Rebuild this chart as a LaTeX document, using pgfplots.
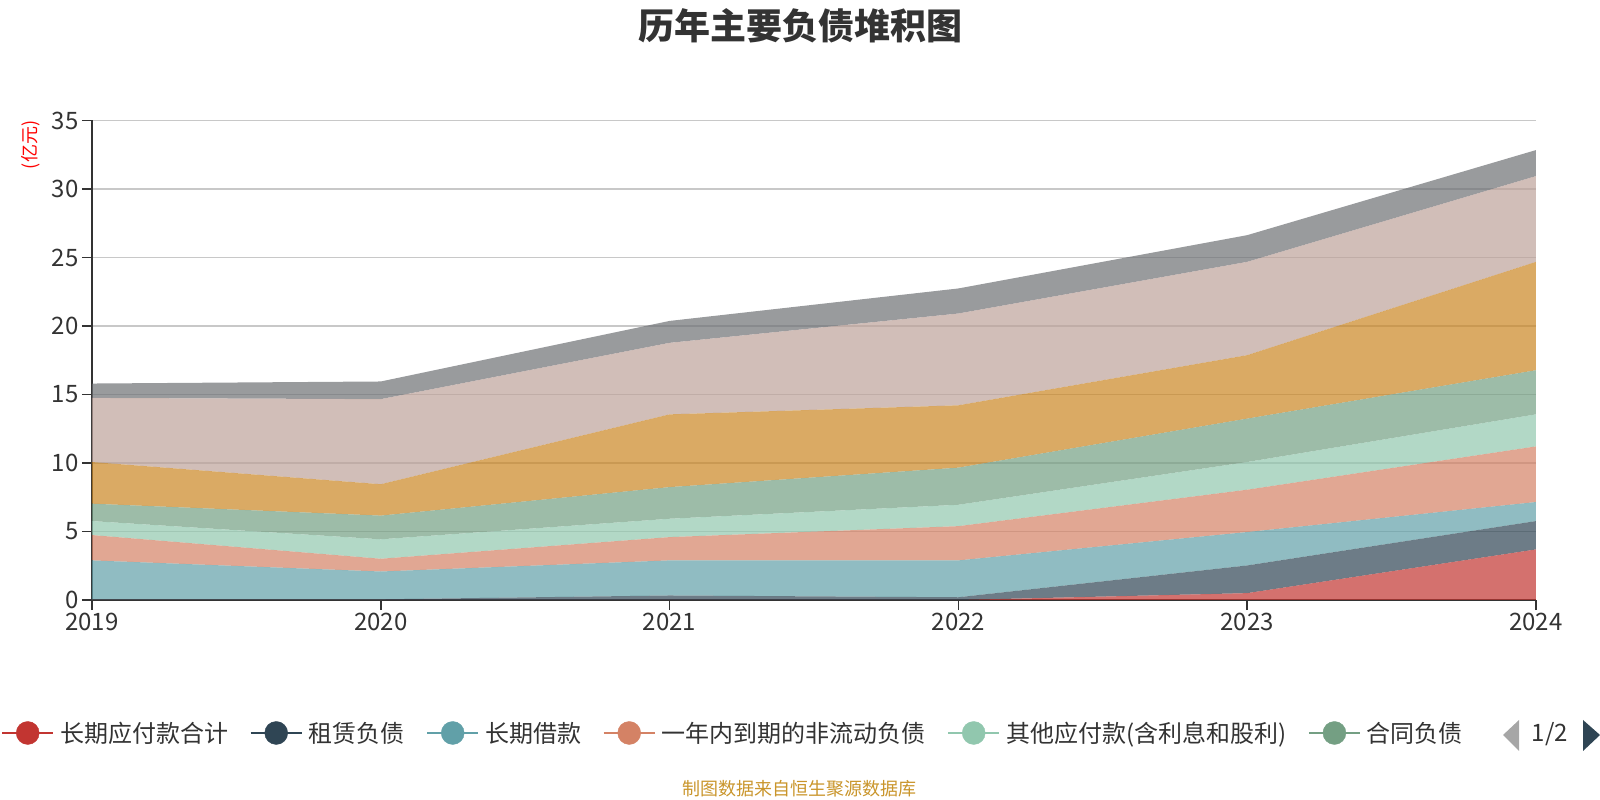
\documentclass[border=0pt]{standalone}
\usepackage{pgfplots}
\pgfplotsset{compat=1.18}
\usepackage{fontspec}
\setmainfont{Noto Sans CJK SC}
\newfontfamily\dejavu{DejaVu Sans}
\definecolor{c1}{HTML}{C23531}
\definecolor{c2}{HTML}{2F4554}
\definecolor{c3}{HTML}{61A0A8}
\definecolor{c4}{HTML}{D48265}
\definecolor{c5}{HTML}{91C7AE}
\definecolor{c6}{HTML}{749F83}
\definecolor{c7}{HTML}{CA8622}
\definecolor{c8}{HTML}{BDA29A}
\definecolor{c9}{HTML}{6E7074}
\definecolor{axisc}{HTML}{333333}
\definecolor{gridc}{HTML}{C8C8C8}
\definecolor{labc}{HTML}{333333}
\definecolor{srcc}{HTML}{C9952B}
\begin{document}
\begin{tikzpicture}
\useasboundingbox (0,0) rectangle (1600pt,800pt);
\begin{axis}[
  at={(92pt,200pt)}, anchor=south west,
  scale only axis, width=1444pt, height=479.5pt,
  xmin=0, xmax=5, ymin=0, ymax=35,
  xtick={0,1,2,3,4,5}, xticklabels={2019,2020,2021,2022,2023,2024},
  ytick={0,5,10,15,20,25,30,35},
  axis lines*=left,
  axis line style={color=axisc, line width=1.6pt},
  ymajorgrids, grid style={color=gridc, line width=1.3pt},
  tick align=outside, major tick length=10pt,
  tick style={color=axisc, line width=1.6pt},
  ticklabel style={font=\fontsize{24}{28}\selectfont, text=labc},
  /pgf/number format/assume math mode=true,
  stack plots=y,
  legend columns=-1,
  legend style={at={(axis description cs:-0.0630,-0.2773)}, anchor=west, draw=none, fill=none, inner sep=0pt,
    font=\fontsize{24}{28}\selectfont, text=labc,
    /tikz/every odd column/.append style={column sep=4pt},
    /tikz/every even column/.append style={column sep=19.5pt}},
  legend image code/.code={\draw[#1,line width=2pt] (0pt,0pt)--(51pt,0pt); \fill[#1] (25.5pt,0pt) circle (11.5pt);},
]
% 长期应付款合计
\addplot[fill=c1, fill opacity=0.7, draw=none, forget plot] coordinates {(0,0) (1,0) (2,0) (3,0) (4,0.50) (5,3.69)} \closedcycle;
% 租赁负债
\addplot[fill=c2, fill opacity=0.7, draw=none, forget plot] coordinates {(0,0.05) (1,0.05) (2,0.33) (3,0.20) (4,2.02) (5,2.07)} \closedcycle;
% 长期借款
\addplot[fill=c3, fill opacity=0.7, draw=none, forget plot] coordinates {(0,2.84) (1,2.03) (2,2.56) (3,2.69) (4,2.44) (5,1.39)} \closedcycle;
% 一年内到期的非流动负债
\addplot[fill=c4, fill opacity=0.7, draw=none, forget plot] coordinates {(0,1.85) (1,0.93) (2,1.70) (3,2.50) (4,3.09) (5,4.06)} \closedcycle;
% 其他应付款(含利息和股利)
\addplot[fill=c5, fill opacity=0.7, draw=none, forget plot] coordinates {(0,1.02) (1,1.42) (2,1.34) (3,1.56) (4,2.02) (5,2.34)} \closedcycle;
% 合同负债
\addplot[fill=c6, fill opacity=0.7, draw=none, forget plot] coordinates {(0,1.27) (1,1.73) (2,2.31) (3,2.71) (4,3.17) (5,3.22)} \closedcycle;
% series 7
\addplot[fill=c7, fill opacity=0.7, draw=none, forget plot] coordinates {(0,3.04) (1,2.29) (2,5.31) (3,4.55) (4,4.63) (5,7.91)} \closedcycle;
% series 8
\addplot[fill=c8, fill opacity=0.7, draw=none, forget plot] coordinates {(0,4.68) (1,6.21) (2,5.22) (3,6.70) (4,6.81) (5,6.26)} \closedcycle;
% series 9
\addplot[fill=c9, fill opacity=0.7, draw=none, forget plot] coordinates {(0,1.05) (1,1.29) (2,1.60) (3,1.83) (4,1.95) (5,1.90)} \closedcycle;
\addlegendimage{color=c1}\addlegendentry{长期应付款合计}
\addlegendimage{color=c2}\addlegendentry{租赁负债}
\addlegendimage{color=c3}\addlegendentry{长期借款}
\addlegendimage{color=c4}\addlegendentry{一年内到期的非流动负债}
\addlegendimage{color=c5}\addlegendentry{其他应付款(含利息和股利)}
\addlegendimage{color=c6}\addlegendentry{合同负债}
\end{axis}
\node[font=\fontsize{36}{42}\selectfont\bfseries, text=labc] at (800pt,774.5pt) {历年主要负债堆积图};
\node[font=\fontsize{18}{20}\selectfont, text=red, rotate=90] at (31pt,655pt) {(亿元)};
\node[font=\fontsize{18}{20}\selectfont, text=srcc] at (799pt,11pt) {制图数据来自恒生聚源数据库};
\fill[gray!70] (1503pt,65pt) -- (1519pt,80pt) -- (1519pt,49pt) -- cycle;
\node[font=\fontsize{24}{28}\selectfont, text=labc] at (1550pt,66pt) {1/2};
\fill[c2] (1600pt,65pt) -- (1583pt,80pt) -- (1583pt,49pt) -- cycle;
\end{tikzpicture}
\end{document}
